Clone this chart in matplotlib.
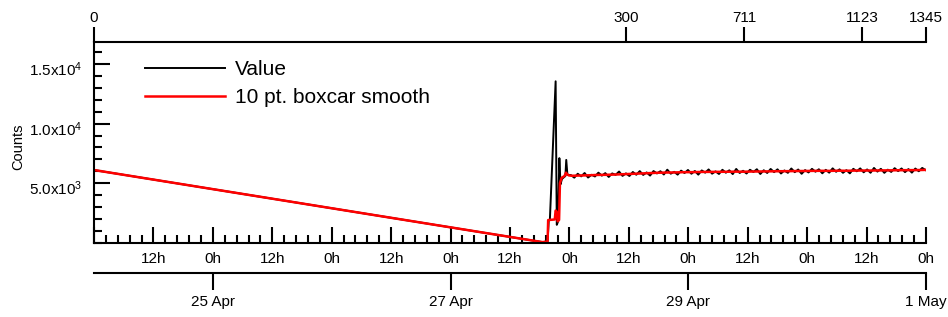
import matplotlib
matplotlib.use('Agg')
import matplotlib.pyplot as plt
import matplotlib.dates as mdates
import matplotlib.transforms as mtransforms
from matplotlib.ticker import FixedLocator, MultipleLocator, FuncFormatter
from datetime import datetime
import numpy as np

plt.rcParams['font.family'] = 'Liberation Sans'
plt.rcParams['mathtext.fontset'] = 'custom'
plt.rcParams['mathtext.rm'] = 'Liberation Sans'
plt.rcParams['mathtext.it'] = 'Liberation Sans:italic'
plt.rcParams['mathtext.bf'] = 'Liberation Sans:bold'

# sample clock: point 0, a long gap, then regular sampling from point 1
t_first = datetime(2025, 4, 24, 0, 0)
t_second = datetime(2025, 4, 27, 18, 5)
step_min = 3.478

# raw counts (point index, value)
value_idx = [0, 1, 10, 20, 27, 31, 35, 55, 59, 63, 68, 72, 77, 84, 89, 92, 96] + list(range(108, 1345, 12))
value_cnt = [6100, 80, 40, 90, 110, 1850, 1950, 13550, 1500, 1750, 7100, 4900, 5350, 5500, 5600, 6950, 5700,
             5680, 5460, 5790, 5570, 5850, 5470, 5700, 5560,
             5880, 5630, 5840, 5520, 5815, 5695, 5975, 5610,
             5820, 5600, 5935, 5705, 6010, 5690, 5900, 5635,
             6015, 5815, 6000, 5725, 6130, 5795, 5950, 5715,
             6050, 5850, 6105, 5790, 6022, 5715, 6067, 5880,
             6152, 5795, 5987, 5770, 6122, 5875, 6077, 5760,
             6192, 5855, 6037, 5810, 6122, 5935, 6167, 5770,
             6082, 5855, 6190, 5925, 6160, 5812, 6065, 5867,
             6230, 5922, 6144, 5785, 6097, 5898, 6200, 5962,
             6164, 5826, 6118, 5880, 6242, 5954, 6156, 5868,
             6090, 5822, 6204, 5996, 6238, 5910, 6150, 5872,
             6275, 5970, 6203, 5866, 6130, 5943, 6256, 6010,
             6233, 5926, 6180, 5883, 6226, 6000, 6275, 6090]

# 10 pt. boxcar smooth (point index, value)
smooth_idx = [0, 1, 10, 20, 27, 29, 52, 55, 59, 62, 67, 70, 76, 86, 91, 95, 101] + list(range(110, 1341, 30)) + [1345]
smooth_cnt = [6100, 80, 50, 80, 100, 1900, 1950, 2700, 2600, 1800, 1900, 5000, 5450, 5600, 5880, 5750, 5650,
              5620, 5640, 5660, 5690, 5700, 5720, 5750, 5780, 5810, 5840, 5870, 5890, 5900, 5920,
              5925, 5940, 5945, 5950, 5955, 5965, 5960, 5975, 5980, 5990, 6000, 6005, 6015, 6020,
              6030, 6035, 6030, 6045, 6040, 6055, 6060, 6060, 6070, 6075, 6085, 6090, 6095, 6110, 6120]

top_idx = [0, 300, 711, 1123, 1345]
ytick_vals = [5000, 10000, 15000]
ytick_text = ['5.0x10$^{3}$', '1.0x10$^{4}$', '1.5x10$^{4}$']
date_days = [datetime(2025, 4, 25), datetime(2025, 4, 27), datetime(2025, 4, 29), datetime(2025, 5, 1)]
x_start = datetime(2025, 4, 24)
x_end = datetime(2025, 5, 1)
y_max = 16850


def idx_to_time(idx):
    idx = np.asarray(idx, dtype=float)
    t = mdates.date2num(t_second) + (idx - 1) * step_min / 1440.0
    return np.where(idx == 0, mdates.date2num(t_first), t)


W, H = 948, 317
fig = plt.figure(figsize=(W / 100, H / 100), dpi=100)
L, R, B, T = 94 / W, 926 / W, (H - 242.7) / H, (H - 42) / H
ax = fig.add_axes([L, B, R - L, T - B])

xmin, xmax = mdates.date2num(x_start), mdates.date2num(x_end)

ax.plot(idx_to_time(value_idx), value_cnt, color='black', lw=1.4, label='Value')
ax.plot(idx_to_time(smooth_idx), smooth_cnt, color='#ff0000', lw=1.8, label='10 pt. boxcar smooth')

ax.set_xlim(xmin, xmax)
ax.set_ylim(0, y_max)

lw = 1.5
for s in ['top', 'right']:
    ax.spines[s].set_visible(False)
for s in ['left', 'bottom']:
    ax.spines[s].set_linewidth(lw)

# bottom hour axis
ax.xaxis.set_major_locator(mdates.HourLocator(byhour=[0, 12]))
ax.xaxis.set_minor_locator(MultipleLocator(0.1))


def hour_label(x, pos):
    if abs(x - xmin) < 1e-6:
        return ''
    return f"{mdates.num2date(x).hour}h"


ax.xaxis.set_major_formatter(FuncFormatter(hour_label))
ax.tick_params(axis='x', which='major', direction='in', length=11.5, width=lw, pad=6.5, labelsize=11)
ax.tick_params(axis='x', which='minor', direction='in', length=5.8, width=lw)

# left counts axis
ax.yaxis.set_major_locator(FixedLocator(ytick_vals))
ax.set_yticklabels(ytick_text)
ax.yaxis.set_minor_locator(MultipleLocator(1000))
ax.tick_params(axis='y', which='major', direction='in', length=11.5, width=lw, pad=8.6, labelsize=11)
ax.tick_params(axis='y', which='minor', direction='in', length=5.8, width=lw)
ax.tick_params(top=False, right=False, which='both')
shift = mtransforms.ScaledTranslation(0, -3 / 72, fig.dpi_scale_trans)
for lab in ax.get_yticklabels():
    lab.set_transform(lab.get_transform() + shift)
ax.set_ylabel('Counts', fontsize=10.5)
ax.yaxis.set_label_coords((25 - 94) / 832, (242.7 - 147) / 200.7)

ax.legend(loc='upper left', bbox_to_anchor=(0.0613, 0.91), frameon=False, fontsize=15,
          handlelength=3.85, handletextpad=0.48, labelspacing=0.44, borderpad=0, borderaxespad=0)

# top point-number axis
ax_t = ax.twiny()
ax_t.set_xlim(xmin, xmax)
ax_t.set_xticks(idx_to_time(top_idx))
ax_t.set_xticklabels([str(i) for i in top_idx])
for s in ['left', 'right', 'bottom']:
    ax_t.spines[s].set_visible(False)
ax_t.spines['top'].set_linewidth(lw)
ax_t.tick_params(axis='x', direction='out', length=11, width=lw, pad=1.5, labelsize=11)

# date axis below
yd = (H - 272.7) / H
ax_d = fig.add_axes([L, yd, R - L, 1e-4])
ax_d.set_xlim(xmin, xmax)
ax_d.set_yticks([])
ax_d.patch.set_visible(False)
for s in ['left', 'right', 'top']:
    ax_d.spines[s].set_visible(False)
ax_d.spines['bottom'].set_linewidth(lw)
ax_d.xaxis.set_major_locator(FixedLocator(mdates.date2num(date_days)))
ax_d.xaxis.set_major_formatter(mdates.DateFormatter('%-d %b'))
ax_d.tick_params(axis='x', direction='out', length=12.5, width=lw, pad=3.5, labelsize=11)

fig.savefig('out.png', dpi=100)
